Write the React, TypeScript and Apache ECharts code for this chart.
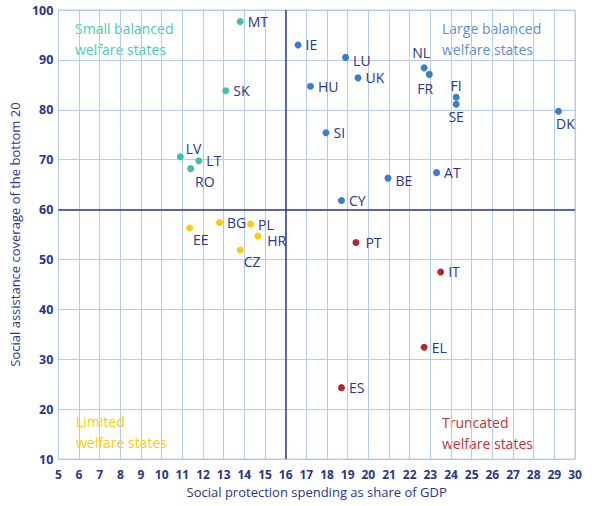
import React, { useEffect, useRef } from "react";
import * as echarts from "echarts";

// [x = social protection spending % GDP, y = SA coverage of bottom 20]
const smallBalancedNames = ["MT", "SK", "LV", "LT", "RO"];
const smallBalancedX = [13.8, 13.1, 10.9, 11.8, 11.4];
const smallBalancedY = [97.7, 83.8, 70.6, 69.8, 68.2];

const largeBalancedNames = ["IE", "LU", "UK", "HU", "NL", "FR", "FI", "SE", "DK", "SI", "BE", "AT", "CY"];
const largeBalancedX = [16.6, 18.9, 19.5, 17.2, 22.7, 22.95, 24.25, 24.25, 29.2, 17.95, 20.95, 23.3, 18.7];
const largeBalancedY = [93.0, 90.5, 86.4, 84.7, 88.4, 87.1, 82.5, 81.1, 79.7, 75.4, 66.3, 67.4, 61.8];

const limitedNames = ["EE", "BG", "PL", "HR", "CZ"];
const limitedX = [11.35, 12.8, 14.3, 14.65, 13.8];
const limitedY = [56.3, 57.4, 57.1, 54.7, 51.9];

const truncatedNames = ["PT", "IT", "EL", "ES"];
const truncatedX = [19.4, 23.5, 22.7, 18.7];
const truncatedY = [53.4, 47.5, 32.4, 24.3];

const xTicks = Array.from({ length: 26 }, (_, i) => 5 + i);
const yTicks = [10, 20, 30, 40, 50, 60, 70, 80, 90, 100];

const quadrantX = 16;
const quadrantY = 60;

const labelPos: Record<string, any> = {
  LV: { position: "right", offset: [-2, -8] },
  RO: { position: "right", offset: [-3, 13] },
  LU: { position: "right", offset: [0, 3] },
  NL: { position: "top", offset: [-3, -1] },
  FR: { position: "bottom", offset: [-4, 0] },
  FI: { position: "top", offset: [0, 3] },
  SE: { position: "bottom", offset: [0, -2] },
  DK: { position: "bottom", offset: [7, -2] },
  BE: { position: "right", offset: [0, 2] },
  EE: { position: "right", offset: [-4, 11] },
  HR: { position: "right", offset: [2, 5] },
  CZ: { position: "right", offset: [-4, 12] },
  PT: { position: "right", offset: [2, 0] },
};

const NAVY = "#2b3585";
const GRIDC = "#b7cbe6";
const FONT = "'Open Sans', 'Noto Sans', sans-serif";

function buildData(names: string[], xs: number[], ys: number[]) {
  return names.map((n, i) => {
    const lp = labelPos[n] || { position: "right", offset: [0, 0] };
    return {
      name: n,
      value: [xs[i], ys[i]],
      label: { position: lp.position, offset: lp.offset },
    };
  });
}

export default function App() {
  const ref = useRef<HTMLDivElement>(null);
  useEffect(() => {
    if (!ref.current) return;
    const chart = echarts.init(ref.current, undefined, { renderer: "svg" });
    const mkSeries = (name: string, color: string, names: string[], xs: number[], ys: number[], extra: any = {}) => ({
      name,
      type: "scatter",
      symbolSize: 7,
      itemStyle: { color, opacity: 1 },
      label: {
        show: true,
        formatter: "{b}",
        color: NAVY,
        fontSize: 14,
        fontFamily: FONT,
        distance: 4,
      },
      data: buildData(names, xs, ys),
      ...extra,
    });
    chart.setOption({
      animation: false,
      textStyle: { fontFamily: FONT },
      grid: { left: 53, right: 17, top: 10, bottom: 47, containLabel: false, show: true, borderColor: GRIDC, borderWidth: 1 },
      xAxis: {
        type: "value",
        min: xTicks[0],
        max: xTicks[xTicks.length - 1],
        interval: 1,
        name: "Social protection spending as share of GDP",
        nameLocation: "middle",
        nameGap: 26,
        nameTextStyle: { color: NAVY, fontSize: 13, fontFamily: FONT },
        axisLine: { show: false },
        axisTick: { show: false },
        axisLabel: { color: NAVY, fontSize: 12, fontWeight: "bold", fontFamily: FONT, margin: 9 },
        splitLine: { show: true, lineStyle: { color: GRIDC, width: 1 } },
      },
      yAxis: {
        type: "value",
        min: yTicks[0],
        max: yTicks[yTicks.length - 1],
        interval: 10,
        name: "Social assistance coverage of the bottom 20",
        nameLocation: "middle",
        nameGap: 27,
        nameTextStyle: { color: NAVY, fontSize: 13, fontFamily: FONT },
        axisLine: { show: false },
        axisTick: { show: false },
        axisLabel: { color: NAVY, fontSize: 12.5, fontWeight: "bold", fontFamily: FONT, margin: 5 },
        splitLine: { show: true, lineStyle: { color: GRIDC, width: 1 } },
      },
      series: [
        mkSeries("Large balanced", "#3b7dc9", largeBalancedNames, largeBalancedX, largeBalancedY, {
          markLine: {
            silent: true,
            symbol: "none",
            label: { show: false },
            lineStyle: { color: "#2e3c8c", width: 1.5, type: "solid" },
            data: [{ xAxis: quadrantX }, { yAxis: quadrantY }],
          },
        }),
        mkSeries("Small balanced", "#3fbfac", smallBalancedNames, smallBalancedX, smallBalancedY),
        mkSeries("Limited", "#ffcc00", limitedNames, limitedX, limitedY),
        mkSeries("Truncated", "#b8242a", truncatedNames, truncatedX, truncatedY),
      ],
      graphic: [
        { type: "text", left: 75, top: 18, style: { text: "Small balanced\nwelfare states", fill: "#4cc8b6", fontSize: 14, lineHeight: 21, fontFamily: FONT } },
        { type: "text", left: 442, top: 18, style: { text: "Large balanced\nwelfare states", fill: "#5b8dd3", fontSize: 14, lineHeight: 21, fontFamily: FONT } },
        { type: "text", left: 76, top: 411, style: { text: "Limited\nwelfare states", fill: "#ffcc00", fontSize: 14, lineHeight: 21, fontFamily: FONT } },
        { type: "text", left: 442, top: 412, style: { text: "Truncated\nwelfare states", fill: "#c0343a", fontSize: 14, lineHeight: 21, fontFamily: FONT } },
      ],
    });
    return () => chart.dispose();
  }, []);
  return <div ref={ref} style={{ position: "absolute", left: 0, top: 0, width: 592, height: 506 }} />;
}
